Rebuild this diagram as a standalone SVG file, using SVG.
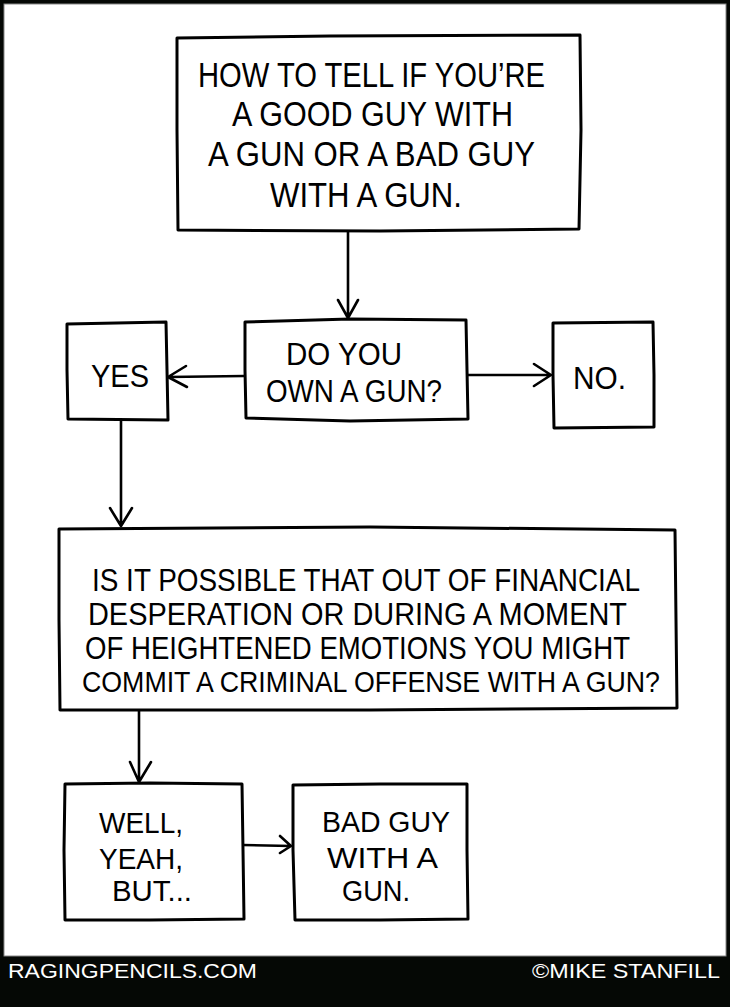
<svg xmlns="http://www.w3.org/2000/svg" width="730" height="1007" viewBox="0 0 730 1007">
<style>
.box{fill:#fff;stroke:#000;stroke-width:3;stroke-linejoin:round;stroke-linecap:round}
.ln{fill:none;stroke:#000;stroke-width:2.6;stroke-linecap:round;stroke-linejoin:round}
.t{font-family:"Liberation Sans","DejaVu Sans",sans-serif;fill:#000;font-size:35px}
.s{font-size:31px}
.q{font-size:31px}
.m{font-size:30px}
.f{font-family:"Liberation Sans","DejaVu Sans",sans-serif;fill:#fff;font-size:21px}
</style>
<rect x="0" y="0" width="730" height="1007" fill="#050805"/>
<rect x="4" y="4" width="722" height="952" fill="#fff" stroke="#888" stroke-width="1"/>

<g id="connectors">
<path class="ln" d="M348 231 L348 318 M338 300 L348 318 L358 300"/>
<path class="ln" d="M244 376 L168 377 M186 366 L168 377 L187 387"/>
<path class="ln" d="M467 375 L551 375 M534 364 L551 375 L534 386"/>
<path class="ln" d="M121 421 L121 526 M110 508 L121 526 L132 508"/>
<path class="ln" d="M139 710 L139 782 M130 762 L139 782 L151 762"/>
<path class="ln" d="M243 845 L291 846 M280 836 L291 846 L280 853"/>
</g>

<g id="title">
<path class="box" d="M177 38 L330 36 L580 35 L581 130 L579 229 L380 231 L178 230 L177 130 Z"/>
<text class="t" x="198" y="87" textLength="347" lengthAdjust="spacingAndGlyphs">HOW TO TELL IF YOU’RE</text>
<text class="t" x="232" y="126" textLength="281" lengthAdjust="spacingAndGlyphs">A GOOD GUY WITH</text>
<text class="t" x="208" y="166" textLength="327" lengthAdjust="spacingAndGlyphs">A GUN OR A BAD GUY</text>
<text class="t" x="270" y="207" textLength="192" lengthAdjust="spacingAndGlyphs">WITH A GUN.</text>
</g>

<g id="own">
<path class="box" d="M245 322 L350 319 L466 320 L467 370 L468 419 L350 421 L246 418 L245 370 Z"/>
<text class="t s" x="286" y="365" textLength="116" lengthAdjust="spacingAndGlyphs">DO YOU</text>
<text class="t s" x="266" y="402" textLength="176" lengthAdjust="spacingAndGlyphs">OWN A GUN?</text>
</g>

<g id="yes">
<path class="box" d="M67 324 L166 322 L167 370 L168 420 L68 419 L67 370 Z"/>
<text class="t s" x="91" y="387" textLength="58" lengthAdjust="spacingAndGlyphs">YES</text>
</g>

<g id="no">
<path class="box" d="M553 323 L653 322 L654 375 L654 427 L554 428 L553 375 Z"/>
<text class="t s" x="573" y="389" textLength="53" lengthAdjust="spacingAndGlyphs">NO.</text>
</g>

<g id="question">
<path class="box" d="M59 529 L370 527 L675 530 L676 620 L677 708 L370 710 L60 710 L59 620 Z"/>
<text class="t q" x="92" y="591" textLength="548" lengthAdjust="spacingAndGlyphs">IS IT POSSIBLE THAT OUT OF FINANCIAL</text>
<text class="t q" x="88" y="625" textLength="539" lengthAdjust="spacingAndGlyphs">DESPERATION OR DURING A MOMENT</text>
<text class="t q" x="85" y="659" textLength="545" lengthAdjust="spacingAndGlyphs">OF HEIGHTENED EMOTIONS YOU MIGHT</text>
<text class="t" font-size="30" x="82" y="692" textLength="578" lengthAdjust="spacingAndGlyphs" style="font-size:30px">COMMIT A CRIMINAL OFFENSE WITH A GUN?</text>
</g>

<g id="well">
<path class="box" d="M65 784 L150 783 L242 784 L243 850 L244 919 L150 920 L65 920 L64 850 Z"/>
<text class="t m" x="99" y="833" textLength="84" lengthAdjust="spacingAndGlyphs">WELL,</text>
<text class="t m" x="99" y="869" textLength="84" lengthAdjust="spacingAndGlyphs">YEAH,</text>
<text class="t m" x="112" y="901" textLength="80" lengthAdjust="spacingAndGlyphs">BUT...</text>
</g>

<g id="bad">
<path class="box" d="M293 785 L380 784 L467 784 L467 850 L468 919 L380 920 L295 920 L293 850 Z"/>
<text class="t m" x="322" y="832" textLength="128" lengthAdjust="spacingAndGlyphs">BAD GUY</text>
<text class="t m" x="327" y="868" textLength="111" lengthAdjust="spacingAndGlyphs">WITH A</text>
<text class="t m" x="342" y="901" textLength="68" lengthAdjust="spacingAndGlyphs">GUN.</text>
</g>

<g id="footer">
<text class="f" x="8" y="978" textLength="249" lengthAdjust="spacingAndGlyphs">RAGINGPENCILS.COM</text>
<text class="f" x="532" y="978" textLength="188" lengthAdjust="spacingAndGlyphs">©MIKE STANFILL</text>
</g>
</svg>
